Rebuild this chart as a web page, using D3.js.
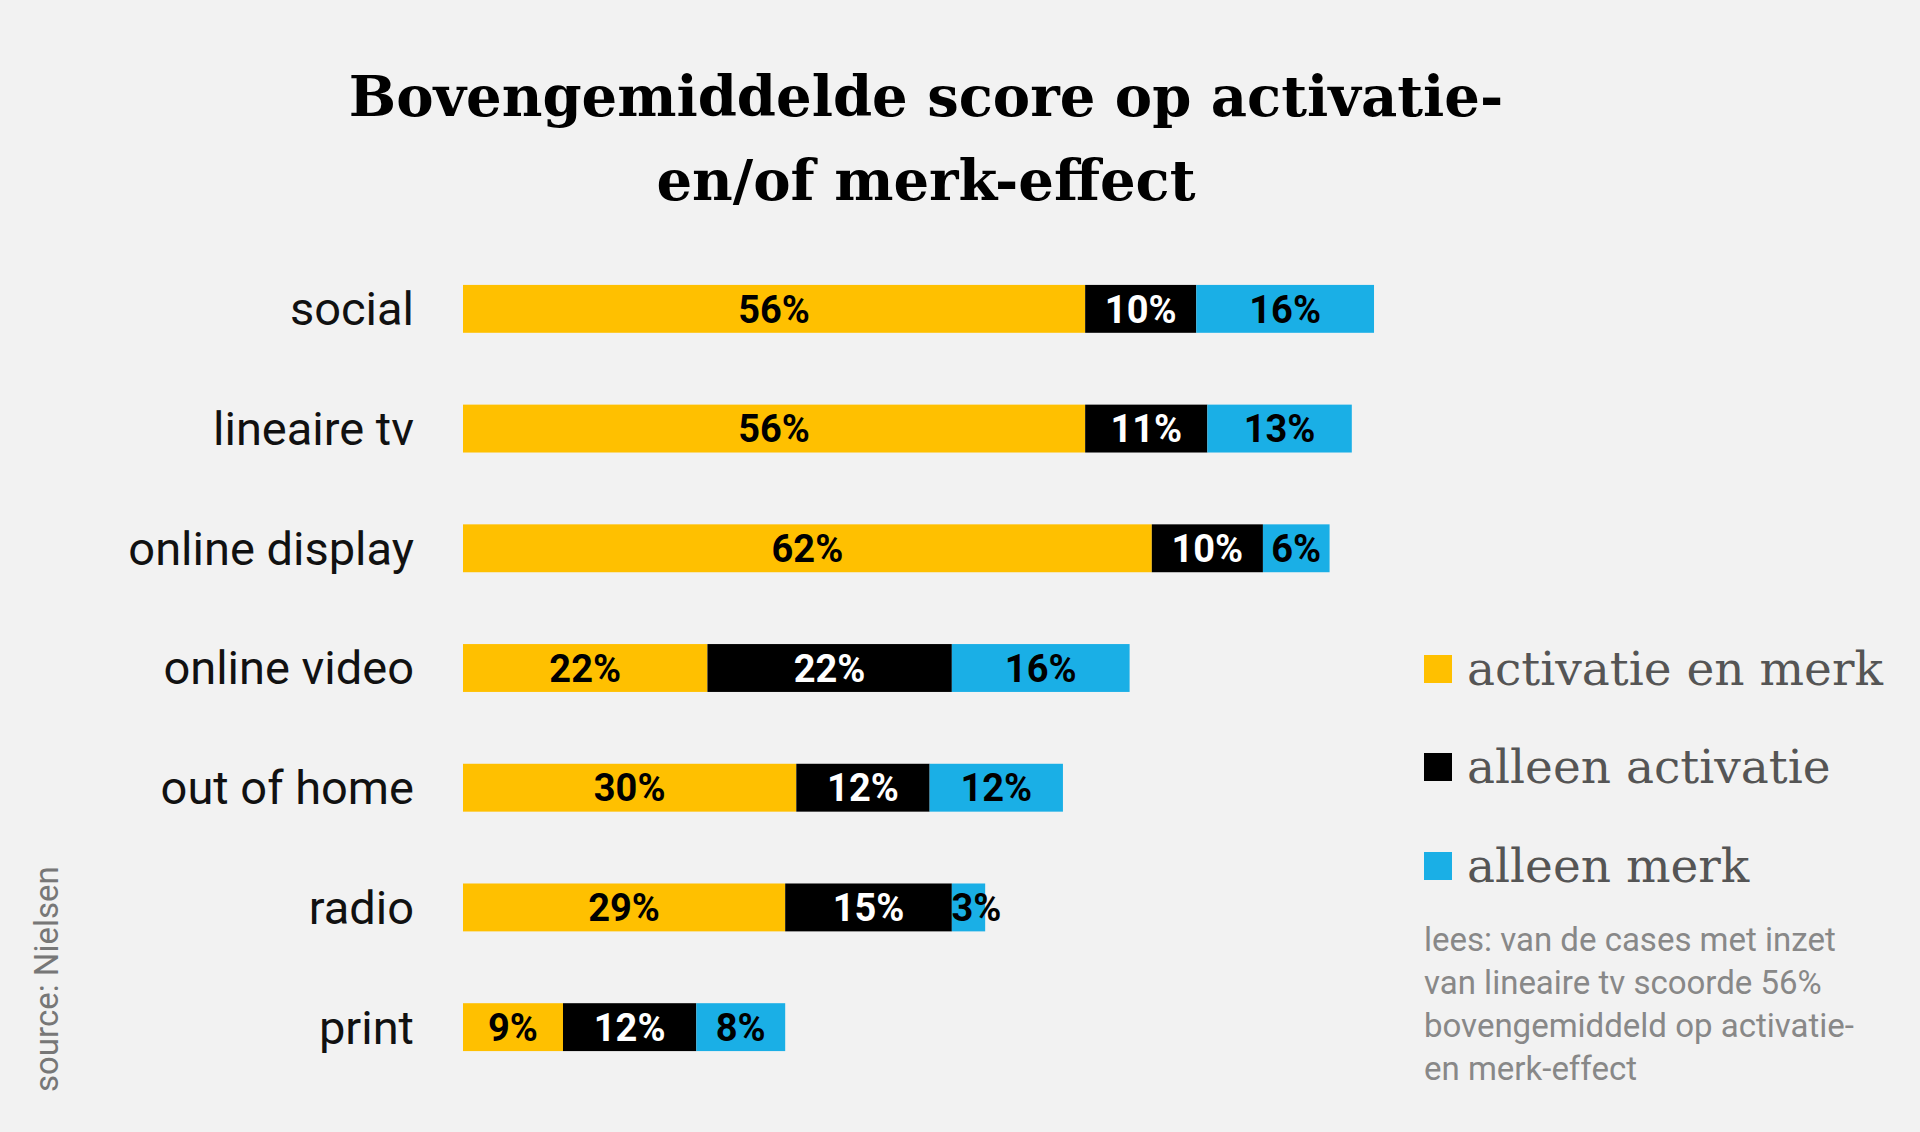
<!DOCTYPE html>
<meta charset="utf-8">
<script src="https://d3js.org/d3.v7.min.js"></script>
<style>body{margin:0;background:#f2f2f2}</style>
<div id="chart"></div>
<script>
var categories = ["social", "lineaire tv", "online display", "online video", "out of home", "radio", "print"];
var bothValues = [56, 56, 62, 22, 30, 29, 9];
var activationValues = [10, 11, 10, 22, 12, 15, 12];
var brandValues = [16, 13, 6, 16, 12, 3, 8];
var seriesNames = ["activatie en merk", "alleen activatie", "alleen merk"];
var colors = ["#ffc000", "#000000", "#1aafe6"];
var textColors = ["#000", "#fff", "#000"];

var width = 1920, height = 1132;
var svg = d3.select("#chart").append("svg").attr("width", width).attr("height", height);
svg.append("rect").attr("width", width).attr("height", height).attr("fill", "#f2f2f2");

// title
svg.append("text").attr("x", 926).attr("y", 116).attr("text-anchor", "middle")
  .style("font-family", "DejaVu Serif").style("font-weight", "bold").style("font-size", "56px")
  .text("Bovengemiddelde score op activatie-");
svg.append("text").attr("x", 926).attr("y", 200).attr("text-anchor", "middle")
  .style("font-family", "DejaVu Serif").style("font-weight", "bold").style("font-size", "56px")
  .text("en/of merk-effect");

var rows = categories.map(function(c, i) {
  return {cat: c, vals: [bothValues[i], activationValues[i], brandValues[i]]};
});

var x = d3.scaleLinear().domain([0, 100]).range([463, 463 + 1111]);
var y = d3.scaleBand().domain(categories).range([249, 1087]).paddingInner(0.6).paddingOuter(0.3);

var g = svg.append("g");
rows.forEach(function(r) {
  var start = 0;
  var row = g.append("g");
  row.append("text").attr("x", 414).attr("y", y(r.cat) + y.bandwidth() / 2).attr("dy", "0.35em")
    .attr("text-anchor", "end").style("font-family", "Roboto").style("font-size", "47px")
    .attr("fill", "#111").text(r.cat);
  r.vals.forEach(function(v, k) {
    row.append("rect").attr("x", x(start)).attr("y", y(r.cat))
      .attr("width", x(start + v) - x(start)).attr("height", y.bandwidth()).attr("fill", colors[k]);
    row.append("text").attr("x", (x(start) + x(start + v)) / 2 + (v < 5 ? 8 : 0))
      .attr("y", y(r.cat) + y.bandwidth() / 2).attr("dy", "0.36em").attr("text-anchor", "middle")
      .style("font-family", "Roboto").style("font-weight", "bold").style("font-size", "38px")
      .attr("fill", textColors[k]).text(v + "%");
    start += v;
  });
});

// legend
var legendY = [669, 767, 866];
seriesNames.forEach(function(s, k) {
  svg.append("rect").attr("x", 1424).attr("y", legendY[k] - 14).attr("width", 28).attr("height", 28).attr("fill", colors[k]);
  svg.append("text").attr("x", 1467).attr("y", legendY[k]).attr("dy", "0.35em")
    .style("font-family", "DejaVu Serif").style("font-size", "47px").attr("fill", "#555").text(s);
});

var note = ["lees: van de cases met inzet", "van lineaire tv scoorde 56%", "bovengemiddeld op activatie-", "en merk-effect"];
note.forEach(function(t, i) {
  svg.append("text").attr("x", 1424).attr("y", 951 + i * 43)
    .style("font-family", "Roboto").style("font-size", "33px").attr("fill", "#888").text(t);
});

svg.append("text").attr("transform", "translate(58,1092) rotate(-90)")
  .style("font-family", "Roboto").style("font-size", "33px").attr("fill", "#777").text("source: Nielsen");
</script>
